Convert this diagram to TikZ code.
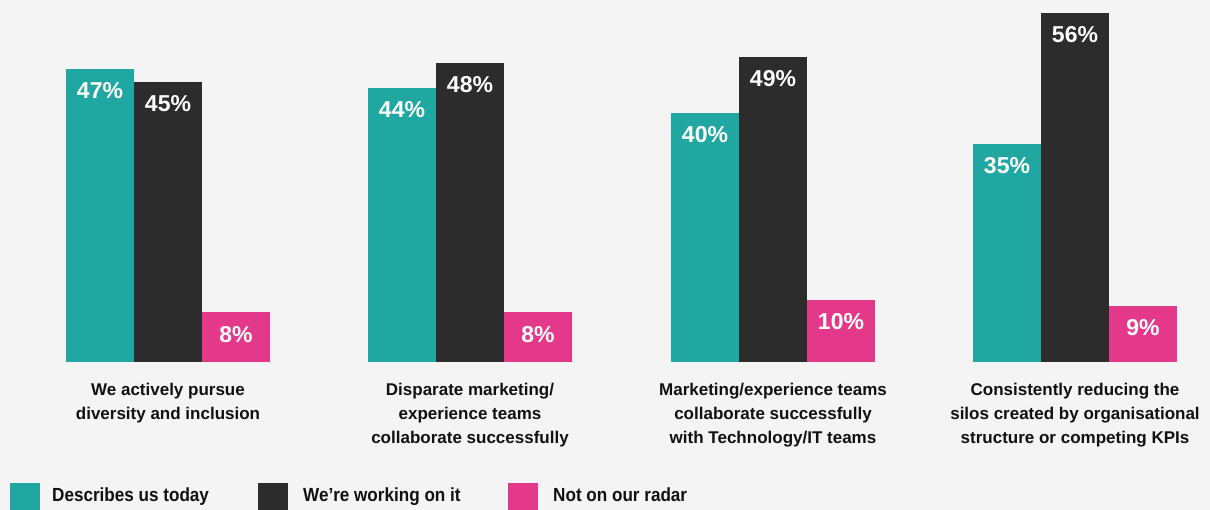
\documentclass[tikz,border=0pt]{standalone}
\usepackage{fontspec}
\setmainfont{Liberation Sans}
\newfontfamily\legfont[FakeStretch=0.9]{Liberation Sans}
\definecolor{cteal}{HTML}{21A7A2}
\definecolor{cdark}{HTML}{2C2C2C}
\definecolor{cpink}{HTML}{E4398A}
\definecolor{cbg}{HTML}{F4F4F4}
\definecolor{ctext}{HTML}{111111}
\begin{document}
\begin{tikzpicture}[x=1pt,y=-1pt,
  bar/.style={draw=none,inner sep=0pt,outer sep=0pt,minimum width=68pt,anchor=south west},
  val/.style={text=white,font=\bfseries\fontsize{23}{23}\selectfont,inner sep=0pt},
  cat/.style={text=ctext,font=\bfseries\fontsize{17}{24}\selectfont,align=center,anchor=north,inner sep=0pt},
  legbox/.style={draw=none,inner sep=0pt,minimum width=30pt,minimum height=30pt,anchor=north west},
  legtxt/.style={text=ctext,font=\legfont\bfseries\fontsize{19}{19}\selectfont,anchor=base west,inner sep=0pt}]
\fill[cbg] (0,0) rectangle (1210,510);
\useasboundingbox (0,0) rectangle (1210,510);
% group 1
\node[bar,fill=cteal,minimum height=293pt] (t1) at (66,362) {};
\node[bar,fill=cdark,minimum height=280pt] (d1) at (134,362) {};
\node[bar,fill=cpink,minimum height=50pt] (p1) at (202,362) {};
\node[val] (vt1) at (100,91) {47\%};
\node[val] (vd1) at (168,104) {45\%};
\node[val] (vp1) at (236,335) {8\%};
\node[cat] (c1) at (168,383) {We actively pursue\\diversity and inclusion};
% group 2
\node[bar,fill=cteal,minimum height=274pt] (t2) at (368,362) {};
\node[bar,fill=cdark,minimum height=299pt] (d2) at (436,362) {};
\node[bar,fill=cpink,minimum height=50pt] (p2) at (504,362) {};
\node[val] (vt2) at (402,110) {44\%};
\node[val] (vd2) at (470,85) {48\%};
\node[val] (vp2) at (538,335) {8\%};
\node[cat] (c2) at (470,383) {Disparate marketing/\\experience teams\\collaborate successfully};
% group 3
\node[bar,fill=cteal,minimum height=249pt] (t3) at (671,362) {};
\node[bar,fill=cdark,minimum height=305pt] (d3) at (739,362) {};
\node[bar,fill=cpink,minimum height=62pt] (p3) at (807,362) {};
\node[val] (vt3) at (705,135) {40\%};
\node[val] (vd3) at (773,79) {49\%};
\node[val] (vp3) at (841,322) {10\%};
\node[cat] (c3) at (773,383) {Marketing/experience teams\\collaborate successfully\\with Technology/IT teams};
% group 4
\node[bar,fill=cteal,minimum height=218pt] (t4) at (973,362) {};
\node[bar,fill=cdark,minimum height=349pt] (d4) at (1041,362) {};
\node[bar,fill=cpink,minimum height=56pt] (p4) at (1109,362) {};
\node[val] (vt4) at (1007,166) {35\%};
\node[val] (vd4) at (1075,35) {56\%};
\node[val] (vp4) at (1143,328) {9\%};
\node[cat] (c4) at (1075,383) {Consistently reducing the\\silos created by organisational\\structure or competing KPIs};
% legend
\node[legbox,fill=cteal] (l1) at (10,483) {};
\node[legtxt] (lt1) at (52,501) {Describes us today};
\node[legbox,fill=cdark] (l2) at (258,483) {};
\node[legtxt] (lt2) at (303,501) {We’re working on it};
\node[legbox,fill=cpink] (l3) at (508,483) {};
\node[legtxt] (lt3) at (553,501) {Not on our radar};
\end{tikzpicture}
\end{document}
